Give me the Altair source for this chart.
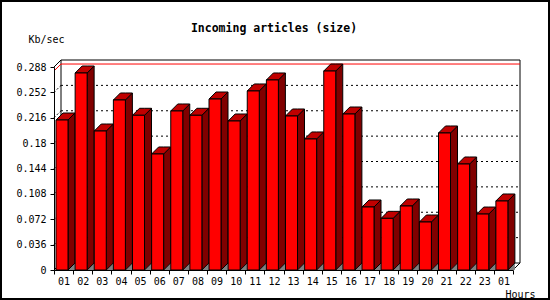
import altair as alt
import pandas as pd

# ---- data ----
hours = ["01", "02", "03", "04", "05", "06", "07", "08", "09", "10", "11", "12",
         "13", "14", "15", "16", "17", "18", "19", "20", "21", "22", "23", "01"]
kbps = [0.2128, 0.2795, 0.1972, 0.2412, 0.2195, 0.1646, 0.2256, 0.2195,
        0.2426, 0.2114, 0.2540, 0.2696, 0.2185, 0.1859, 0.2823, 0.2213,
        0.0894, 0.0733, 0.0908, 0.0681, 0.1944, 0.1504, 0.0794, 0.0979]
y_ticks = [0, 0.036, 0.072, 0.108, 0.144, 0.18, 0.216, 0.252, 0.288]

# ---- layout / style constants ----
W, H = 459, 203
N = len(hours)
Y_MAX = y_ticks[-1]
DEPTH = 7                      # px depth of the 3D effect
DX = DEPTH * N / W             # depth in x data units
DY = DEPTH * Y_MAX / H         # depth in y data units
FACE_L = 2 * N / W             # front face start inside band
FACE_R = 14 * N / W            # front face end inside band
FONT = "DejaVu Sans Mono"

xs = alt.Scale(domain=[0, N], nice=False, zero=False)
ys = alt.Scale(domain=[0, Y_MAX], nice=False, zero=False)

bars = pd.DataFrame({"i": range(N), "hour": hours, "v": kbps})
bars["x0"] = bars["i"] + FACE_L
bars["x1"] = bars["i"] + FACE_R
bars["zero"] = 0.0

side_rows, top_rows, tri_rows = [], [], []
for i, v in enumerate(kbps):
    x0, x1 = i + FACE_L, i + FACE_R
    b = "b%02d" % i
    side_rows += [dict(bar=b, px=x1, py=v, qy=0.0), dict(bar=b, px=x1 + DX, py=v + DY, qy=DY)]
    top_rows += [dict(bar=b, px=x0, py=v, qy=v), dict(bar=b, px=x0 + DX, py=v + DY, qy=v),
                 dict(bar=b, px=x1, py=v + DY, qy=v), dict(bar=b, px=x1 + DX, py=v + DY, qy=v + DY)]
    tri_rows += [dict(bar=b, px=x1, py=0.0, qy=0.0), dict(bar=b, px=x1 + DX, py=DY, qy=0.0)]
side = pd.DataFrame(side_rows)
top = pd.DataFrame(top_rows)
tri = pd.DataFrame(tri_rows)

back = pd.DataFrame([
    dict(xa=0, ya=Y_MAX, xb=N, yb=Y_MAX),
    dict(xa=0, ya=0, xb=0, yb=Y_MAX),
    dict(xa=N, ya=0, xb=N, yb=Y_MAX),
    dict(xa=0, ya=0, xb=N, yb=0),
])
diag = pd.DataFrame([dict(xa=0, ya=Y_MAX), dict(xa=0, ya=0), dict(xa=N, ya=0)])
grid = pd.DataFrame({"ya": y_ticks[1:-1]})
grid["xa"] = 0
grid["xb"] = N
vmax = pd.DataFrame({"ya": [max(kbps)], "xa": [0], "xb": [N]})

label_expr = "[" + ",".join("'%s'" % h for h in hours) + ",''][datum.value]"

x_axis = alt.Axis(
    values=list(range(N + 1)), labelExpr=label_expr, labelOffset=W / N / 2,
    labelFlush=False, labelOverlap=False, tickSize=4, labelPadding=2,
    title="Hours", titleX=451, titleY=27, titleAlign="left",
    titleBaseline="alphabetic", titleFont=FONT, titleFontSize=10,
    titleFontWeight="normal", grid=False, zindex=2)
y_axis = alt.Axis(
    values=y_ticks, labelExpr="format(datum.value, '.3~g')",
    tickSize=4, labelPadding=4, grid=False,
    labelOverlap=False, labelFlush=False,
    title="Kb/sec", titleAngle=0, titleX=-26, titleY=-25, titleAlign="left",
    titleBaseline="alphabetic", titleFont=FONT, titleFontSize=10,
    titleFontWeight="normal", zindex=2)


def X(field):
    return alt.X(field + ":Q", scale=xs, axis=x_axis)


def Y(field):
    return alt.Y(field + ":Q", scale=ys, axis=y_axis)


front = alt.Chart(bars).mark_rect(stroke="black", strokeWidth=1).encode(
    x=X("x0"), x2="x1:Q", y=Y("v"), y2="zero:Q",
    fill=alt.value("#ff0000"),
)


def area_layer(df, color, stroke=True):
    enc = dict(
        x=X("px"), y=Y("py"), y2="qy:Q",
        detail="bar:N",
        fill=alt.value(color),
        fillOpacity=alt.value(1),
    )
    if stroke:
        enc["stroke"] = alt.value("black")
        enc["strokeWidth"] = alt.value(1)
    return alt.Chart(df).mark_area(orient="vertical", interpolate="linear",
                                   filled=True).encode(**enc)


tri_l = area_layer(tri, "#808080", stroke=False)
side_l = area_layer(side, "#800000")
top_l = area_layer(top, "#c00000")


def rule(df, x2f, y2f, back_both, **kw):
    if back_both:
        kw.update(xOffset=DEPTH, x2Offset=DEPTH, yOffset=-DEPTH, y2Offset=-DEPTH)
    else:
        kw.update(x2Offset=DEPTH, y2Offset=-DEPTH)
    return alt.Chart(df).mark_rule(**kw).encode(
        x=X("xa"), x2=x2f + ":Q", y=Y("ya"), y2=y2f + ":Q")


back_l = rule(back, "xb", "yb", True, color="black", strokeWidth=1)
diag_l = rule(diag, "xa", "ya", False, color="black", strokeWidth=1)
grid_l = rule(grid, "xb", "ya", True, color="black", strokeWidth=1, strokeDash=[2, 3])
grid_d = rule(grid, "xa", "ya", False, color="black", strokeWidth=1, strokeDash=[2, 2])
max_l = rule(vmax, "xb", "ya", True, color="red", strokeWidth=1)
max_d = rule(vmax, "xa", "ya", False, color="red", strokeWidth=1)

border = alt.Chart(pd.DataFrame({"k": [0]})).mark_rect(
    fill="transparent", stroke="black", strokeWidth=2).encode(
    x=alt.value(-53), x2=alt.value(W + 37 - 1),
    y=alt.value(-66), y2=alt.value(H + 30 - 1))

chart = alt.layer(
    back_l, grid_l, grid_d, diag_l, max_l, max_d,
    tri_l, side_l, top_l, front, border,
).properties(
    width=W, height=H,
    title=alt.TitleParams("Incoming articles (size)", font=FONT, fontSize=11.5,
                          fontWeight="bold", color="black", anchor="middle",
                          frame="group", dx=-9.5, dy=34, offset=0),
    autosize=alt.AutoSizeParams(type="none"),
    padding={"left": 54, "top": 67, "right": 37, "bottom": 30},
    background="white",
).configure_view(stroke=None).configure_axis(
    domainColor="black", tickColor="black", labelColor="black", titleColor="black",
    labelFont=FONT, labelFontSize=10, domainWidth=1, tickWidth=1,
)

chart.save("out.html", embed_options={"renderer": "svg", "actions": False})
